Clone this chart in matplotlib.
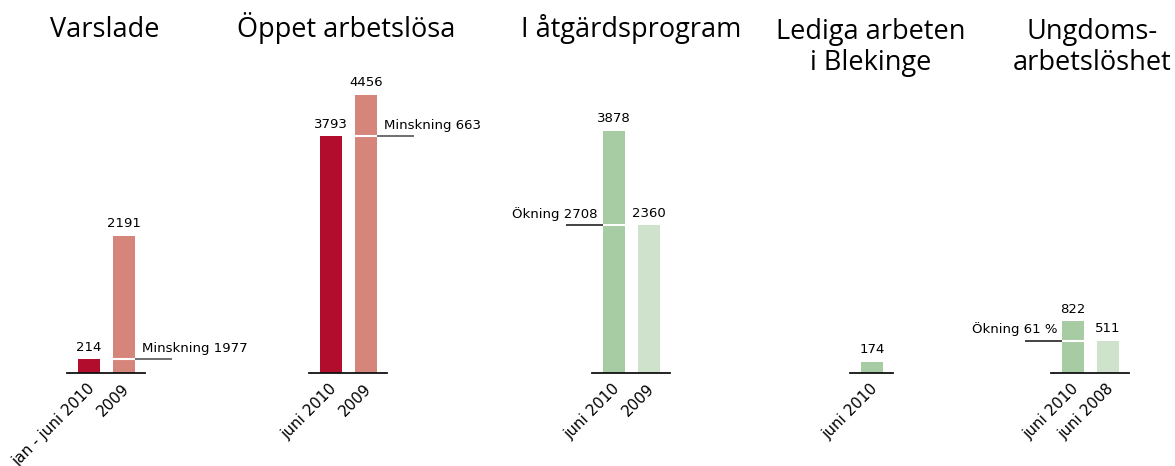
import matplotlib
matplotlib.use("Agg")
import matplotlib.pyplot as plt
from matplotlib.transforms import ScaledTranslation

titles = ["Varslade", "Öppet arbetslösa", "I åtgärdsprogram",
          "Lediga arbeten\ni Blekinge", "Ungdoms-\narbetslöshet"]
categories = [["jan - juni 2010", "2009"],
              ["juni 2010", "2009"],
              ["juni 2010", "2009"],
              ["juni 2010"],
              ["juni 2010", "juni 2008"]]
values = [[214, 2191],
          [3793, 4456],
          [3878, 2360],
          [174],
          [822, 511]]
notes = ["Minskning 1977", "Minskning 663", "Ökning 2708", None, "Ökning 61 %"]

# colours per panel (first bar, second bar)
colors = [["#B20D2D", "#D6857A"],
          ["#B20D2D", "#D6857A"],
          ["#A7CBA2", "#CFE3CC"],
          ["#A7CBA2"],
          ["#A7CBA2", "#CFE3CC"]]

# layout in pixels
W, H = 1175, 466
bar_left_px = [78, 320, 603, 861, 1062]
title_x_px = [105, 346, 631, 871, 1092]
slot = 35.0          # px per category
bar_w = 22 / slot
base_px = 372.5      # baseline, px from top
px_per_unit = 0.0623
ymax = 5000

plt.rcParams["font.family"] = ["DejaVu Sans"]

fig = plt.figure(figsize=(W / 100, H / 100), dpi=100)

for i, vals in enumerate(values):
    n = len(vals)
    left_px = bar_left_px[i] - 11
    width_px = n * slot + 8
    x0 = -bar_w / 2 - 11 / slot
    ax = fig.add_axes([left_px / W, (H - base_px) / H,
                       width_px / W, ymax * px_per_unit / H])
    ax.set_xlim(x0, x0 + width_px / slot)
    ax.set_ylim(0, ymax)
    xs = list(range(n))
    ax.bar(xs, vals, width=bar_w, color=colors[i], zorder=2)
    for x, v in zip(xs, vals):
        ax.annotate(str(v), (x, v), xytext=(0, 4), textcoords="offset points",
                    ha="center", va="bottom", fontsize=9.5)

    for s in ["top", "left", "right"]:
        ax.spines[s].set_visible(False)
    ax.spines["bottom"].set_linewidth(1.3)
    ax.spines["bottom"].set_color("#111111")
    ax.set_yticks([])
    ax.set_xticks(xs)
    ax.set_xticklabels(categories[i], rotation=45, ha="right", va="top",
                       rotation_mode="anchor", fontsize=11)
    ax.tick_params(axis="x", length=0, pad=6)
    offset = ScaledTranslation(-2 / 100, 0, fig.dpi_scale_trans)
    for lab in ax.get_xticklabels():
        lab.set_transform(lab.get_transform() + offset)

    # difference marker: line on the taller bar at the level of the other bar
    if notes[i] is not None:
        hi = 0 if vals[0] > vals[1] else 1
        lo = 1 - hi
        level = vals[lo]
        ax.plot([hi - bar_w / 2, hi + bar_w / 2], [level, level],
                color="white", lw=1.5, zorder=3, solid_capstyle="butt")
        if hi == 1:
            start = hi + bar_w / 2
            end = start + 37 / slot
            ax.plot([start, end], [level, level], color="#555555", lw=1.2,
                    clip_on=False, solid_capstyle="butt")
            ax.annotate(notes[i], (start + 7 / slot, level), xytext=(0, 3),
                        textcoords="offset points", ha="left", va="bottom",
                        fontsize=9.5, annotation_clip=False)
        else:
            start = hi - bar_w / 2
            end = start - 37 / slot
            ax.plot([end, start], [level, level], color="#222222", lw=1.2,
                    clip_on=False, solid_capstyle="butt")
            ax.annotate(notes[i], (start - 5 / slot, level), xytext=(0, 3),
                        textcoords="offset points", ha="right", va="bottom",
                        fontsize=9.5, annotation_clip=False)

# titles: baseline of the last line, 33 px per extra line
for t, x in zip(titles, title_x_px):
    n_lines = t.count("\n") + 1
    y_px = 37 + 33 * (n_lines - 1)
    fig.text(x / W, 1 - y_px / H, t, ha="center", va="baseline", fontsize=19.5,
             family=["Open Sans", "DejaVu Sans"], linespacing=1.12)

fig.savefig("out.png", dpi=100)
